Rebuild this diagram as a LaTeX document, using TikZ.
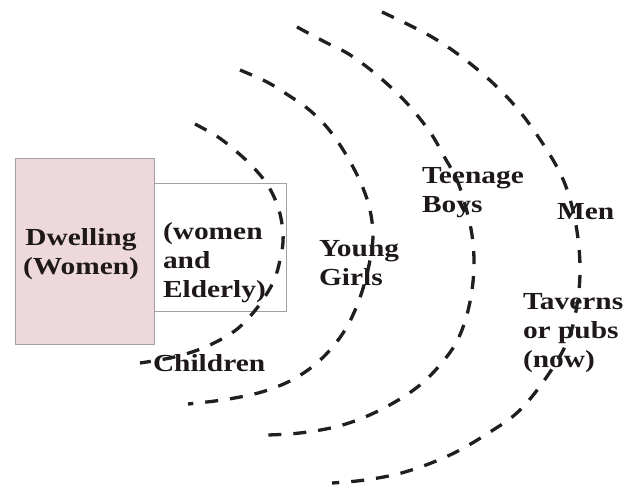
\documentclass[tikz,border=0pt]{standalone}
\usepackage{fontspec}
\newfontfamily\labfont[FakeStretch=1.2]{Liberation Serif}
\definecolor{pinkfill}{RGB}{237,217,219}
\definecolor{boxgray}{RGB}{165,160,160}
\definecolor{inkc}{RGB}{30,24,24}
\begin{document}
\begin{tikzpicture}[x=1pt,y=-1pt,
  lbl/.style={anchor=base west,inner sep=0pt,outer sep=0pt,text=inkc,align=left,
    font=\labfont\bfseries\fontsize{24.5}{29}\selectfont},
  ring/.style={draw=black!88,line width=3.3pt,dash pattern=on 13pt off 12pt},
  boxstyle/.style={draw=boxgray,line width=1.4pt}]
\useasboundingbox (0,0) rectangle (630,487);
\node[boxstyle,fill=pinkfill,minimum width=139pt,minimum height=186pt,anchor=north west,inner sep=0pt] (dwell) at (15,158) {};
\node[boxstyle,fill=white,minimum width=132pt,minimum height=128pt,anchor=north west,inner sep=0pt] (elder) at (154,183) {};
\node[lbl,align=center,anchor=base] (tdwell) at (81,274) {Dwelling\\(Women)};
\node[lbl] (telder) at (163,297) {(women\\and\\Elderly)};
\node[lbl] (tchild) at (153,371) {Children};
\node[lbl] (tgirls) at (319,285) {Young\\Girls};
\node[lbl] (tboys) at (422,212) {Teenage\\Boys};
\node[lbl] (tmen) at (557,219) {Men};
\node[lbl] (ttav) at (523,367) {Taverns\\or pubs\\(now)};
\draw[ring] plot[smooth,tension=0.6] coordinates {(195,124) (218,137) (237,152) (253,167) (267,184) (277,204) (282,224) (283,242) (280,260) (275,278) (266,295) (253,313) (236,330) (216,342) (195,351) (170,358) (140,363)};
\draw[ring] plot[smooth,tension=0.6] coordinates {(240,70) (267,82) (288,95) (307,108) (325,125) (340,145) (353,167) (363,188) (370,210) (373,235) (370,260) (364,285) (356,308) (345,330) (330,350) (312,367) (290,381) (265,391) (240,397) (215,401) (188,404)};
\draw[ring] plot[smooth,tension=0.6] coordinates {(297,27) (325,42) (347,53) (367,67) (385,82) (402,98) (417,115) (432,135) (445,158) (457,180) (466,208) (472,235) (474,262) (472,290) (466,318) (456,343) (440,365) (420,385) (395,402) (365,417) (335,427) (300,433) (268,435)};
\draw[ring] plot[smooth,tension=0.6] coordinates {(382,12) (432,37) (472,65) (507,97) (535,132) (562,177) (575,220) (580,265) (577,305) (568,340) (548,375) (520,410) (490,432) (450,455) (405,472) (365,480) (332,483)};
\end{tikzpicture}
\end{document}
